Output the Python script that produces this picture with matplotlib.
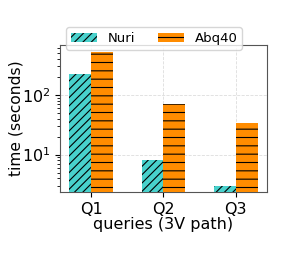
import numpy as np
import matplotlib
matplotlib.use("Agg")
import matplotlib.pyplot as plt

# --- DATA ---
queries = ["Q1", "Q2", "Q3"]
nuri = [222, 8.05, 3.03]
abq40 = [519, 69.8, 34.4]

plt.rcParams["hatch.linewidth"] = 0.8

fig = plt.figure(figsize=(2.87, 2.58), dpi=100)
ax = fig.add_axes([0.209, 0.256, 0.721, 0.57])

x = np.arange(len(queries))
w = 0.3
ax.bar(x - w / 2, nuri, w, label="Nuri", color="mediumturquoise",
       hatch="////", edgecolor="black", linewidth=0, zorder=3)
ax.bar(x + w / 2, abq40, w, label="Abq40", color="darkorange",
       hatch="--", edgecolor="black", linewidth=0, zorder=3)

ax.set_yscale("log")
ax.set_ylim(2.37, 688)
ax.set_xticks(x)
ax.set_xticklabels(queries, fontsize=11.5)
ax.tick_params(axis="y", labelsize=11.5)
ax.set_xlabel("queries (3V path)", fontsize=11.5, labelpad=0)
ax.set_ylabel("time (seconds)", fontsize=11.2, labelpad=-1)
ax.grid(True, which="major", linestyle="--", color="#dddddd", linewidth=0.6, zorder=0)
for s in ax.spines.values():
    s.set_color("#555555")

ax.legend(loc="center", bbox_to_anchor=(0.455, 1.043), ncol=2, fontsize=9.5,
          handlelength=2.0, handletextpad=0.8, columnspacing=1.7, borderpad=0.35)

plt.savefig("out.png", dpi=100)
